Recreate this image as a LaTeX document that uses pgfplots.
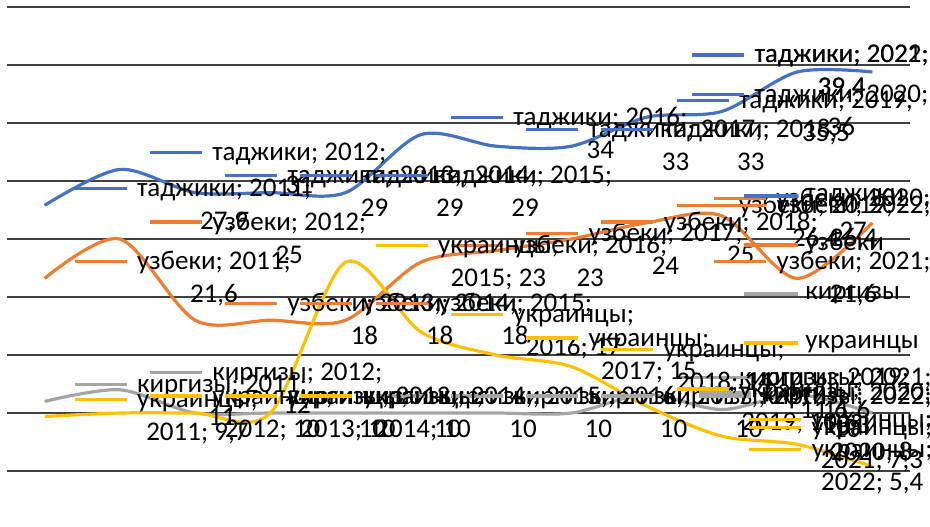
\documentclass[border=0pt]{standalone}
\usepackage{pgfplots}
\pgfplotsset{compat=1.18}
\usepackage{fontspec}
\setmainfont{Carlito}
\definecolor{ctj}{HTML}{4472C4}
\definecolor{cuz}{HTML}{ED7D31}
\definecolor{ckg}{HTML}{A5A5A5}
\definecolor{cua}{HTML}{FFC000}
\newcommand\lbl{\fontsize{13.5}{16}\selectfont}
% data label with legend key: year, value, colour, line 1, line 2, key offset
\newcommand\lab[6]{%
  \draw[#3, line width=1.6pt] ([xshift=#6, yshift=8.5pt]axis cs:#1,#2) -- ++(26pt,0pt);
  \node[anchor=base west, inner sep=0pt, font=\lbl] (L) at ([xshift=#6+31pt, yshift=4.5pt]axis cs:#1,#2) {#4};
  \node[anchor=base, inner sep=0pt, font=\lbl] at ([yshift=-16.5pt]L.base) {#5};
}
\begin{document}
\begin{tikzpicture}
\path[use as bounding box] (0,0) rectangle (465pt,263pt);
\begin{axis}[
  at={(3.5pt,27.5pt)}, anchor=south west, scale only axis,
  width=451.5pt, height=232pt,
  xmin=2010.5, xmax=2022.5, ymin=5, ymax=45,
  xtick=\empty, ytick={5,10,...,45}, yticklabel=\empty,
  ymajorgrids, grid style={black!75, line width=0.65pt},
  axis line style={draw=none}, major tick length=0pt,
  clip=false,
  legend image code/.code={\draw[#1, line width=1.6pt] (0pt,0pt) -- (27pt,0pt);},
  legend style={at={(axis cs:2020.27,29.75)}, anchor=north west, draw=none, fill=none,
    inner sep=0pt, outer sep=0pt, font=\lbl, row sep=12.5pt, column sep=3pt,
    nodes={inner sep=0pt, text height=9pt, text depth=3pt}},
  legend cell align=left,
]
\addplot[ctj, line width=1.6pt, smooth] coordinates {
(2011,27.9) (2012,31) (2013,29) (2014,29) (2015,29) (2016,34)
(2017,33) (2018,33) (2019,35.5) (2020,36) (2021,39.4) (2022,39.4)};
\addplot[cuz, line width=1.6pt, smooth] coordinates {
(2011,21.6) (2012,25) (2013,18) (2014,18) (2015,18) (2016,23)
(2017,24) (2018,25) (2019,26.4) (2020,27) (2021,21.6) (2022,26.4)};
\addplot[ckg, line width=1.6pt, smooth] coordinates {
(2011,11) (2012,12) (2013,10) (2014,10) (2015,10) (2016,10)
(2017,10) (2018,10) (2019,11.6) (2020,10.3) (2021,11.6) (2022,10)};
\addplot[cua, line width=1.6pt, smooth] coordinates {
(2011,9.7) (2012,10) (2013,10) (2014,10) (2015,23) (2016,17)
(2017,15) (2018,14) (2019,10.6) (2020,8) (2021,7.3) (2022,5.4)};
\legend{таджики,узбеки,киргизы,украинцы}

\lab{2011}{27.9}{ctj}{таджики; 2011;}{27,9}{15pt}
\lab{2012}{31}{ctj}{таджики; 2012;}{31}{15pt}
\lab{2013}{29}{ctj}{таджики; 2013;}{29}{15pt}
\lab{2014}{29}{ctj}{таджики; 2014;}{29}{15pt}
\lab{2015}{29}{ctj}{таджики; 2015;}{29}{15pt}
\lab{2016}{34}{ctj}{таджики; 2016;}{34}{15pt}
\lab{2017}{33}{ctj}{таджики; 2017;}{33}{15pt}
\lab{2018}{33}{ctj}{таджики; 2018;}{33}{15pt}
\lab{2019}{35.5}{ctj}{таджики; 2019;}{35,5}{15pt}
\lab{2020}{36}{ctj}{таджики; 2020;}{36}{-15pt}
\lab{2021}{39.4}{ctj}{таджики; 2021;}{39,4}{-52.5pt}
\lab{2022}{39.4}{ctj}{таджики; 2022;}{39,4}{-90pt}

\lab{2011}{21.6}{cuz}{узбеки; 2011;}{21,6}{15pt}
\lab{2012}{25}{cuz}{узбеки; 2012;}{25}{15pt}
\lab{2013}{18}{cuz}{узбеки; 2013;}{18}{15pt}
\lab{2014}{18}{cuz}{узбеки; 2014;}{18}{15pt}
\lab{2015}{18}{cuz}{узбеки; 2015;}{18}{15pt}
\lab{2016}{23}{cuz}{узбеки; 2016;}{23}{15pt}
\lab{2017}{24}{cuz}{узбеки; 2017;}{24}{15pt}
\lab{2018}{25}{cuz}{узбеки; 2018;}{25}{15pt}
\lab{2019}{26.4}{cuz}{узбеки; 2019;}{26,4}{15pt}
\lab{2020}{27}{cuz}{узбеки; 2020;}{27}{-4pt}
\lab{2021}{21.6}{cuz}{узбеки; 2021;}{21,6}{-41.5pt}
\lab{2022}{26.4}{cuz}{узбеки; 2022;}{26,4}{-79pt}

\lab{2011}{11}{ckg}{киргизы; 2011;}{11}{15pt}
\lab{2012}{12}{ckg}{киргизы; 2012;}{12}{15pt}
\lab{2013}{10}{ckg}{киргизы; 2013;}{10}{15pt}
\lab{2014}{10}{ckg}{киргизы; 2014;}{10}{15pt}
\lab{2015}{10}{ckg}{киргизы; 2015;}{10}{15pt}
\lab{2016}{10}{ckg}{киргизы; 2016;}{10}{15pt}
\lab{2017}{10}{ckg}{киргизы; 2017;}{10}{15pt}
\lab{2018}{10}{ckg}{киргизы; 2018;}{10}{15pt}
\lab{2019}{11.6}{ckg}{киргизы; 2019;}{11,6}{15pt}
\lab{2020}{10.3}{ckg}{киргизы; 2020;}{10,3}{-11.5pt}
\lab{2021}{11.6}{ckg}{киргизы; 2021;}{11,6}{-49pt}
\lab{2022}{10}{ckg}{киргизы; 2022;}{10}{-86.5pt}

\lab{2011}{9.7}{cua}{украинцы;}{2011; 9,7}{15pt}
\lab{2012}{10}{cua}{украинцы;}{2012; 10}{15pt}
\lab{2013}{10}{cua}{украинцы;}{2013; 10}{15pt}
\lab{2014}{10}{cua}{украинцы;}{2014; 10}{15pt}
\lab{2015}{23}{cua}{украинцы;}{2015; 23}{15pt}
\lab{2016}{17}{cua}{украинцы;}{2016; 17}{15pt}
\lab{2017}{15}{cua}{украинцы;}{2017; 15}{15pt}
\lab{2018}{14}{cua}{украинцы;}{2018; 14}{15pt}
\lab{2019}{10.6}{cua}{украинцы;}{2019; 10,6}{15pt}
\lab{2020}{8}{cua}{украинцы;}{2020; 8}{13.5pt}
\lab{2021}{7.3}{cua}{украинцы;}{2021; 7,3}{-24pt}
\lab{2022}{5.4}{cua}{украинцы;}{2022; 5,4}{-61.5pt}
\end{axis}
\end{tikzpicture}
\end{document}
